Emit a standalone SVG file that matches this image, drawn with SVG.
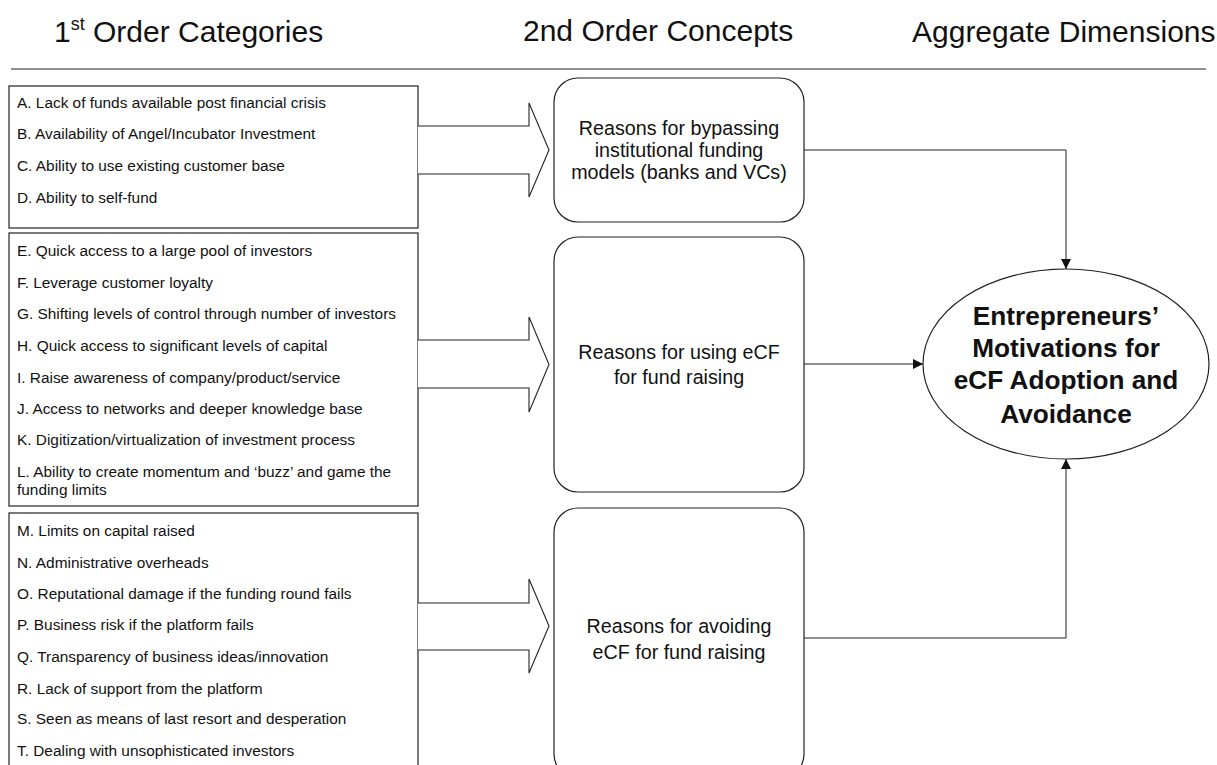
<svg xmlns="http://www.w3.org/2000/svg" width="1217" height="765" viewBox="0 0 1217 765">
  <defs>
    <style>
      .hdr { font-family: "Liberation Sans", Arial, sans-serif; font-size: 30px; fill: #111; }
      .item { font-family: "Liberation Sans", Arial, sans-serif; font-size: 15.4px; fill: #111; }
      .concept { font-family: "Liberation Sans", Arial, sans-serif; font-size: 19.7px; fill: #111; text-anchor: middle; }
      .agg { font-family: "Liberation Sans", Arial, sans-serif; font-size: 26.2px; font-weight: bold; fill: #111; text-anchor: middle; }
      .box { fill: #fff; stroke: #222; stroke-width: 1.2; }
      .block { fill: #fff; stroke: #222; stroke-width: 1.1; stroke-linejoin: miter; }
      .conn { fill: none; stroke: #222; stroke-width: 1; }
    </style>
    <marker id="arr" viewBox="0 0 10 10" refX="10" refY="5" markerWidth="10" markerHeight="10" markerUnits="userSpaceOnUse" orient="auto">
      <path d="M0,0 L10,5 L0,10 z" fill="#111"/>
    </marker>
  </defs>
  <rect width="1217" height="765" fill="#fff"/>

  <!-- column headings -->
  <g id="headings">
    <text class="hdr" x="54" y="42">1<tspan font-size="18" dy="-12">st</tspan><tspan dy="12"> Order Categories</tspan></text>
    <text class="hdr" x="523" y="41">2nd Order Concepts</text>
    <text class="hdr" x="912" y="42">Aggregate Dimensions</text>
    <line x1="11" y1="69" x2="1206" y2="69" stroke="#222" stroke-width="1.2"/>
  </g>

  <!-- first-order category lists -->
  <g id="list-bypass">
    <rect class="box" x="9" y="86" width="409" height="142"/>
    <text class="item" x="17" y="107.5">A. Lack of funds available post financial crisis</text>
    <text class="item" x="17" y="138.5">B. Availability of Angel/Incubator Investment</text>
    <text class="item" x="17" y="170.5">C. Ability to use existing customer base</text>
    <text class="item" x="17" y="202.5">D. Ability to self-fund</text>
  </g>
  <g id="list-using">
    <rect class="box" x="9" y="233" width="409" height="273"/>
    <text class="item" x="17" y="255.5">E. Quick access to a large pool of investors</text>
    <text class="item" x="17" y="287.5">F. Leverage customer loyalty</text>
    <text class="item" x="17" y="318.5">G. Shifting levels of control through number of investors</text>
    <text class="item" x="17" y="350.5">H. Quick access to significant levels of capital</text>
    <text class="item" x="17" y="382.5">I. Raise awareness of company/product/service</text>
    <text class="item" x="17" y="413.5">J. Access to networks and deeper knowledge base</text>
    <text class="item" x="17" y="444.5">K. Digitization/virtualization of investment process</text>
    <text class="item" x="17" y="476.5">L. Ability to create momentum and ‘buzz’ and game the</text>
    <text class="item" x="17" y="494.5">funding limits</text>
  </g>
  <g id="list-avoiding">
    <rect class="box" x="9" y="513" width="409" height="270"/>
    <text class="item" x="17" y="535.5">M. Limits on capital raised</text>
    <text class="item" x="17" y="567.5">N. Administrative overheads</text>
    <text class="item" x="17" y="598.5">O. Reputational damage if the funding round fails</text>
    <text class="item" x="17" y="629.5">P. Business risk if the platform fails</text>
    <text class="item" x="17" y="661.5">Q. Transparency of business ideas/innovation</text>
    <text class="item" x="17" y="693.5">R. Lack of support from the platform</text>
    <text class="item" x="17" y="723.5">S. Seen as means of last resort and desperation</text>
    <text class="item" x="17" y="755.5">T. Dealing with unsophisticated investors</text>
  </g>

  <!-- second-order concepts -->
  <g id="concept-bypass">
    <rect class="box" x="554" y="78" width="250" height="144" rx="24" ry="24"/>
    <text class="concept" x="679" y="135">Reasons for bypassing</text>
    <text class="concept" x="679" y="157">institutional funding</text>
    <text class="concept" x="679" y="179">models (banks and VCs)</text>
  </g>
  <g id="concept-using">
    <rect class="box" x="554" y="237" width="250" height="255" rx="24" ry="24"/>
    <text class="concept" x="679" y="359">Reasons for using eCF</text>
    <text class="concept" x="679" y="384">for fund raising</text>
  </g>
  <g id="concept-avoiding">
    <rect class="box" x="554" y="508" width="250" height="270" rx="24" ry="24"/>
    <text class="concept" x="679" y="633">Reasons for avoiding</text>
    <text class="concept" x="679" y="659">eCF for fund raising</text>
  </g>

  <!-- aggregate dimension -->
  <g id="aggregate">
    <ellipse class="box" cx="1066" cy="364" rx="143" ry="95"/>
    <text class="agg" x="1066" y="325">Entrepreneurs’</text>
    <text class="agg" x="1066" y="357">Motivations for</text>
    <text class="agg" x="1066" y="389">eCF Adoption and</text>
    <text class="agg" x="1066" y="423">Avoidance</text>
  </g>

  <!-- connectors -->
  <g id="connectors">
    <path class="block" d="M418,126 H529 V103 L549,150 L529,197 V174 H418"/>
    <path class="block" d="M418,340 H529 V317 L549,364.5 L529,412 V388 H418"/>
    <path class="block" d="M418,603 H529 V579 L549,626 L529,673 V650 H418"/>
    <path class="conn" d="M804,150 H1066 V269" marker-end="url(#arr)"/>
    <path class="conn" d="M804,364 H923" marker-end="url(#arr)"/>
    <path class="conn" d="M804,638 H1066 V459" marker-end="url(#arr)"/>
  </g>
</svg>
